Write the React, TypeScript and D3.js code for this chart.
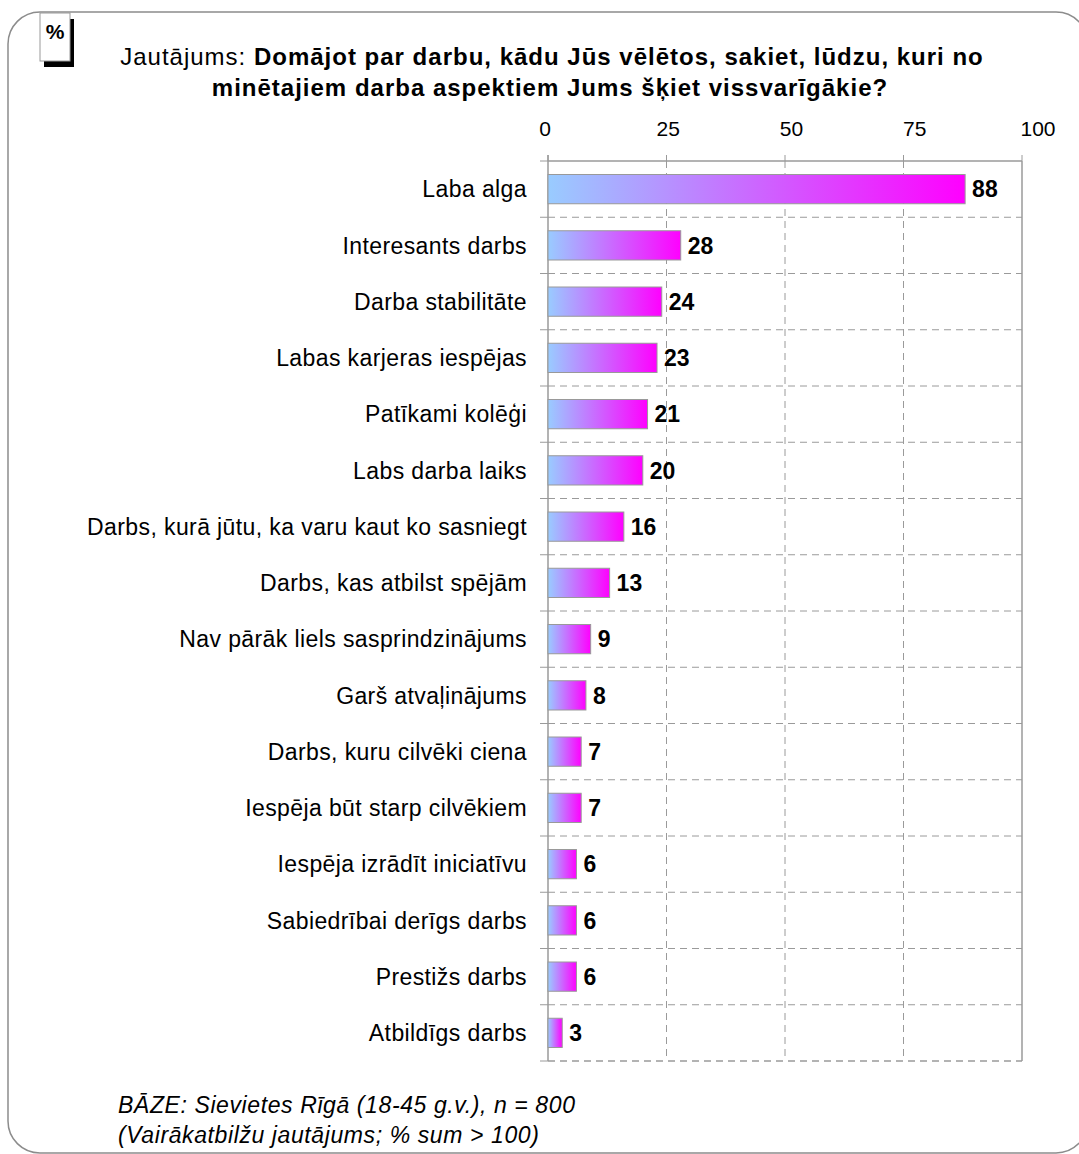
import React from "react";
import * as d3 from "d3";

const categories = [
  "Laba alga",
  "Interesants darbs",
  "Darba stabilitāte",
  "Labas karjeras iespējas",
  "Patīkami kolēģi",
  "Labs darba laiks",
  "Darbs, kurā jūtu, ka varu kaut ko sasniegt",
  "Darbs, kas atbilst spējām",
  "Nav pārāk liels sasprindzinājums",
  "Garš atvaļinājums",
  "Darbs, kuru cilvēki ciena",
  "Iespēja būt starp  cilvēkiem",
  "Iespēja izrādīt iniciatīvu",
  "Sabiedrībai derīgs darbs",
  "Prestižs darbs",
  "Atbildīgs darbs",
];
const values = [88, 28, 24, 23, 21, 20, 16, 13, 9, 8, 7, 7, 6, 6, 6, 3];
const ticks = [0, 25, 50, 75, 100];
const titleRegular = "Jautājums: ";
const titleBold1 = "Domājot par darbu, kādu Jūs vēlētos, sakiet, lūdzu, kuri no";
const titleBold2 = "minētajiem darba aspektiem Jums šķiet vissvarīgākie?";
const footer1 = "BĀZE: Sievietes Rīgā (18-45 g.v.), n = 800";
const footer2 = "(Vairākatbilžu jautājums; % sum > 100)";

export default function App() {
  const W = 1079;
  const H = 1154;
  const x0 = 548;
  const x1 = 1022;
  const top = 161;
  const bottom = 1061;
  const x = d3.scaleLinear().domain([0, 100]).range([x0, x1]);
  const xLabel = d3.scaleLinear().domain([0, 100]).range([545, 1038]);
  const y = d3.scaleBand<string>().domain(categories).range([top, bottom]).paddingInner(0.48).paddingOuter(0.24);
  const band = (bottom - top) / categories.length;
  const boundaries = d3.range(categories.length + 1).map((i) => top + i * band);
  const font = "'Liberation Sans', Arial, sans-serif";
  const grid = "#9a9a9a";

  return (
    <div style={{ position: "absolute", left: 0, top: 0 }}>
      <svg width={W} height={H} style={{ display: "block" }} fontFamily={font}>
        <defs>
          <linearGradient id="barGrad" x1="0" y1="0" x2="1" y2="0">
            <stop offset="0%" stopColor="#99ccff" />
            <stop offset="100%" stopColor="#ff00ff" />
          </linearGradient>
        </defs>
        <rect x={0} y={0} width={W} height={H} fill="#fff" />
        {/* frame */}
        <rect x={8} y={12} width={1080} height={1141} rx={32} ry={32} fill="none" stroke="#8c8c8c" strokeWidth={1.5} />
        {/* % box */}
        <rect x={44} y={19} width={30} height={48} fill="#000" />
        <rect x={40} y={13} width={30} height={48} fill="#fff" stroke="#999" strokeWidth={1} />
        <text x={55} y={39} fontSize={21} fontWeight="bold" textAnchor="middle">%</text>
        {/* title */}
        <text x={552} y={65} fontSize={24} textAnchor="middle" fill="#000" letterSpacing={1}>
          <tspan>{titleRegular}</tspan>
          <tspan fontWeight="bold">{titleBold1}</tspan>
        </text>
        <text x={550} y={96} fontSize={24} textAnchor="middle" fontWeight="bold" fill="#000" letterSpacing={1}>
          {titleBold2}
        </text>
        {/* tick labels */}
        {ticks.map((t) => (
          <text key={t} x={xLabel(t)} y={136} fontSize={21} textAnchor="middle" fill="#000">
            {t}
          </text>
        ))}
        {/* vertical grid */}
        {ticks.slice(1, -1).map((t) => (
          <line key={t} x1={x(t)} x2={x(t)} y1={top} y2={bottom} stroke={grid} strokeDasharray="7,5" strokeWidth={1} />
        ))}
        {ticks.map((t) => (
          <line key={"tt" + t} x1={x(t)} x2={x(t)} y1={top - 6} y2={top} stroke={grid} strokeWidth={1} />
        ))}
        {/* horizontal grid */}
        {boundaries.map((b, i) => (
          <g key={"h" + i}>
            <line x1={x0 - 8} x2={x0} y1={b} y2={b} stroke={grid} strokeWidth={1} />
            {i === 0 ? (
              <line x1={x0} x2={x1} y1={b} y2={b} stroke={grid} strokeWidth={1.3} />
            ) : (
              <line x1={x0} x2={x1} y1={b} y2={b} stroke={grid} strokeDasharray="7,5" strokeWidth={i === categories.length ? 1.5 : 1} />
            )}
          </g>
        ))}
        <line x1={x0} x2={x0} y1={top - 6} y2={bottom} stroke={grid} strokeWidth={1.5} />
        <line x1={x1} x2={x1} y1={top} y2={bottom} stroke={grid} strokeWidth={1.5} />
        {/* bars */}
        {categories.map((c, i) => (
          <g key={c}>
            <rect
              x={x(0)}
              y={y(c)!}
              width={x(values[i]) - x(0)}
              height={y.bandwidth()}
              fill="url(#barGrad)"
              stroke="#999"
              strokeWidth={1}
            />
            <text x={x(values[i]) + 7} y={y(c)! + y.bandwidth() / 2} dy="0.36em" fontSize={23} fontWeight="bold" fill="#000">
              {values[i]}
            </text>
            <text x={527} y={y(c)! + y.bandwidth() / 2} dy="0.36em" fontSize={23} letterSpacing={0.4} textAnchor="end" fill="#000">
              {c}
            </text>
          </g>
        ))}
        {/* footer */}
        <text x={118} y={1113} fontSize={23} letterSpacing={0.6} fontStyle="italic" fill="#000">{footer1}</text>
        <text x={118} y={1143} fontSize={23} letterSpacing={0.6} fontStyle="italic" fill="#000">{footer2}</text>
      </svg>
    </div>
  );
}
